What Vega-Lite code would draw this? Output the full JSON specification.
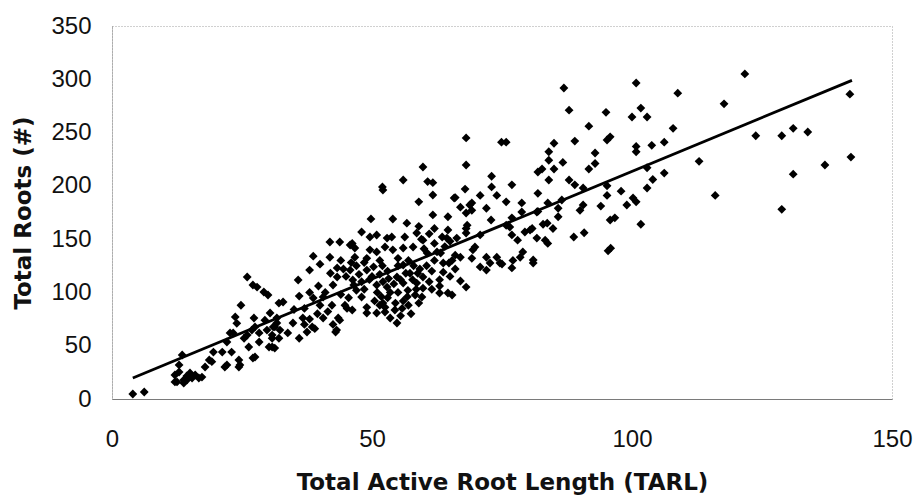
{
"$schema":"https://vega.github.io/schema/vega-lite/v6.json",
"autosize":{"type":"none"},
"width":780,"height":373,
"padding":{"left":112,"top":26,"right":23,"bottom":98},
"background":"white",
"config":{"view":{"stroke":"#a0a0a0","strokeDash":[1,2],"strokeWidth":1},"font":"Liberation Sans"},
"datasets":{
"pts":[
{"x":4,"y":4.7},{"x":6.2,"y":6.6},
{"x":12.1,"y":16},{"x":12.1,"y":22.5},{"x":12.9,"y":25.3},{"x":12.9,"y":32},{"x":13.5,"y":41.3},{"x":13.8,"y":17.8},{"x":13.8,"y":15},{"x":14.4,"y":21.6},{"x":15,"y":24.4},{"x":15.4,"y":19.7},{"x":16,"y":22.5},{"x":16.7,"y":19.7},{"x":17.3,"y":20.6},{"x":12.5,"y":16},{"x":14.4,"y":17.8},
{"x":17.9,"y":30},{"x":18.7,"y":36.6},{"x":19.2,"y":35},{"x":19.5,"y":44},{"x":21.7,"y":30},{"x":21.2,"y":44},{"x":22.1,"y":32},{"x":22.1,"y":53.5},{"x":22.7,"y":62},{"x":23,"y":44},{"x":23.3,"y":62},{"x":23.7,"y":77},{"x":24,"y":71},{"x":24.4,"y":36.6},{"x":24.4,"y":30},{"x":24.6,"y":32},{"x":24.8,"y":88},{"x":25.4,"y":57},{"x":26,"y":60},{"x":26,"y":114.5},{"x":26.3,"y":48.8},{"x":26.9,"y":64.7},{"x":27.1,"y":38.5},{"x":27.3,"y":76},{"x":27.5,"y":39.4},{"x":27.5,"y":67.6},{"x":27.9,"y":105},{"x":27.1,"y":107},{"x":28.3,"y":53.5},{"x":28.3,"y":62},{"x":29.2,"y":100.4},{"x":29.4,"y":74},{"x":29.8,"y":64.7},{"x":30,"y":97.6},{"x":30.2,"y":48.8},{"x":30.4,"y":80.7},{"x":30.8,"y":57},{"x":30.8,"y":48.8},{"x":30.8,"y":60},{"x":31,"y":67.6},{"x":31.3,"y":47.8},{"x":31.3,"y":67.6},{"x":31.7,"y":76},{"x":31.7,"y":71.3},{"x":32.1,"y":57},{"x":32.1,"y":90},{"x":32.3,"y":64.7},{"x":32.9,"y":91},{"x":33.8,"y":62},{"x":34.8,"y":71.3},
{"x":35.8,"y":111.7},{"x":36,"y":96.6},{"x":36,"y":57},{"x":36.7,"y":76},{"x":37.5,"y":62.9},{"x":38.5,"y":67.6},{"x":38.7,"y":94.8},{"x":38,"y":121},{"x":38.7,"y":134},{"x":39.7,"y":106},{"x":40,"y":126.5},{"x":40.6,"y":95.7},{"x":40.6,"y":76},{"x":41.9,"y":133},{"x":41.9,"y":147.3},{"x":42.3,"y":88},{"x":42.5,"y":107},{"x":43.3,"y":123},{"x":43.3,"y":114.5},{"x":43.5,"y":76},{"x":43,"y":62.9},{"x":43.2,"y":64.7},{"x":43.8,"y":147.3},{"x":43.8,"y":74},{"x":44.8,"y":88},{"x":45.2,"y":85},{"x":45.8,"y":121},{"x":45.8,"y":144.5},{"x":46.2,"y":146},{"x":46.2,"y":83.5},{"x":46.3,"y":111.7},{"x":46.7,"y":141.7},{"x":46.7,"y":133},{"x":48,"y":156.7},{"x":48,"y":95.7},{"x":49,"y":132},{"x":49,"y":121},{"x":49,"y":86},{"x":49,"y":80.7},{"x":49.6,"y":152},{"x":49.6,"y":140},{"x":49.8,"y":169},
{"x":37,"y":85},{"x":41,"y":100},{"x":44,"y":98},{"x":47,"y":102},{"x":45,"y":115},{"x":48,"y":110},{"x":42,"y":118},{"x":47,"y":125},{"x":44,"y":130},{"x":38,"y":100},{"x":35,"y":84},{"x":40,"y":88},
{"x":50.9,"y":153.9},{"x":50.9,"y":138},{"x":50.9,"y":107},{"x":50.9,"y":80.7},{"x":51.5,"y":130},{"x":51.5,"y":88},{"x":52,"y":199},{"x":52.1,"y":196},{"x":52.1,"y":110},{"x":52.5,"y":142.6},{"x":52.5,"y":81.6},{"x":52.1,"y":90},{"x":52.9,"y":151},{"x":52.9,"y":105},{"x":53.8,"y":152},{"x":54,"y":168.9},{"x":54.4,"y":83.5},{"x":54.8,"y":114.5},{"x":54.8,"y":71.3},{"x":55,"y":132},{"x":56,"y":205.5},{"x":56,"y":141.7},{"x":56,"y":125.7},{"x":56,"y":108.8},{"x":56.3,"y":152},{"x":56.7,"y":165},{"x":56.9,"y":102},{"x":57.3,"y":118},{"x":57.9,"y":142.6},{"x":58.3,"y":97.6},{"x":58.6,"y":155.8},{"x":58.6,"y":108.8},{"x":59,"y":185},{"x":59,"y":162},{"x":59.6,"y":95.7},{"x":59.8,"y":217.7},{"x":59.8,"y":149},{"x":59.8,"y":114.5},{"x":59.8,"y":104},
{"x":53,"y":120},{"x":55,"y":125},{"x":57,"y":130},{"x":54,"y":140},{"x":58,"y":125},{"x":52,"y":125},{"x":50,"y":115},{"x":53,"y":95},{"x":56,"y":92},{"x":51,"y":100},{"x":55,"y":100},{"x":57,"y":88},
{"x":50.5,"y":92},{"x":51.8,"y":96},{"x":53.5,"y":100},{"x":54.2,"y":108},{"x":55.5,"y":112},{"x":56.5,"y":118},{"x":57.8,"y":112},{"x":58.8,"y":118},{"x":59.2,"y":122},{"x":53.2,"y":113},{"x":51.5,"y":117},{"x":50.3,"y":124},{"x":54.5,"y":90},{"x":56.8,"y":96},{"x":58.5,"y":103},{"x":52.5,"y":86},{"x":55.8,"y":85},{"x":57.5,"y":80},{"x":59,"y":90},{"x":55.5,"y":78},{"x":53.5,"y":76},
{"x":45.5,"y":95},{"x":46.5,"y":107},{"x":48.5,"y":103},{"x":49.5,"y":112},{"x":47.5,"y":117},{"x":44.5,"y":122},{"x":46,"y":128},{"x":48.5,"y":128},
{"x":60.5,"y":125},{"x":62,"y":130},{"x":63,"y":112},{"x":65,"y":115},{"x":61,"y":110},{"x":66,"y":122},
{"x":38,"y":75},{"x":39.5,"y":80},{"x":41.5,"y":82},{"x":42.5,"y":70},{"x":37,"y":70},{"x":39,"y":66},
{"x":60.7,"y":204},{"x":61.7,"y":203},{"x":61.7,"y":191.4},{"x":65.8,"y":188.6},{"x":61.7,"y":172.7},{"x":64.6,"y":171},{"x":60.6,"y":137},{"x":61.5,"y":120},{"x":61.5,"y":103},{"x":63,"y":106},{"x":63,"y":99.5},{"x":63.7,"y":119},{"x":63.7,"y":127.6},{"x":64.4,"y":151},{"x":64.6,"y":99.5},{"x":64.8,"y":127.6},{"x":65.4,"y":130},{"x":65.4,"y":97.6},{"x":66,"y":189},{"x":66.3,"y":151},{"x":67,"y":180},{"x":67,"y":110.7},{"x":67,"y":133},{"x":67.9,"y":197},{"x":68.1,"y":245},{"x":68.1,"y":219.6},{"x":68.1,"y":174.5},{"x":68.1,"y":160},{"x":68.1,"y":155.8},{"x":68.1,"y":105},{"x":68.3,"y":163},{"x":68.8,"y":182},{"x":69.2,"y":184},{"x":69.2,"y":177},{"x":69.2,"y":132},{"x":69.4,"y":140},{"x":69.8,"y":142.6},
{"x":59.5,"y":150},{"x":61,"y":155},{"x":62,"y":146},{"x":63.5,"y":152},{"x":60,"y":141},{"x":62.5,"y":138},{"x":64,"y":143},{"x":65,"y":148},{"x":64.6,"y":158.6},{"x":62,"y":160},{"x":63.2,"y":137},{"x":66,"y":135},
{"x":70.8,"y":191},{"x":70.8,"y":154},{"x":70.8,"y":123.9},{"x":72,"y":179},{"x":72,"y":121},{"x":72,"y":133},{"x":72.9,"y":168},{"x":73,"y":209},{"x":73,"y":199},{"x":74,"y":191},{"x":74,"y":133},{"x":74.6,"y":127.6},{"x":72.7,"y":127.6},{"x":74.9,"y":241},{"x":75.8,"y":241},{"x":75.8,"y":185},{"x":75.8,"y":163},{"x":75,"y":126.7},{"x":76.5,"y":161.4},{"x":76.9,"y":201},{"x":76.9,"y":170},{"x":76.9,"y":154},{"x":76.9,"y":123},{"x":77.1,"y":130},{"x":78,"y":149},{"x":78.5,"y":133},{"x":78.8,"y":184},{"x":78.8,"y":175.5},{"x":79,"y":138},{"x":79.4,"y":156.7},
{"x":80.4,"y":158.6},{"x":80.8,"y":160},{"x":81,"y":130.4},{"x":81,"y":127.6},{"x":81.7,"y":175.5},{"x":81.7,"y":151},{"x":81.9,"y":213},{"x":81.9,"y":193},{"x":81.9,"y":176},{"x":82.7,"y":215.8},{"x":82.9,"y":164},{"x":83.3,"y":149},{"x":83.7,"y":165},{"x":83.8,"y":184},{"x":83.8,"y":146},{"x":84,"y":232},{"x":84,"y":224},{"x":84,"y":205.5},{"x":84.8,"y":160},{"x":85,"y":240},{"x":85,"y":215.8},{"x":85.8,"y":179},{"x":85.8,"y":171},{"x":86.5,"y":186.7},{"x":86.7,"y":222},{"x":86.9,"y":291.8},{"x":87.9,"y":271},{"x":87.9,"y":205.5},{"x":88.8,"y":152},{"x":89,"y":242},{"x":89,"y":201},
{"x":90,"y":177},{"x":90.6,"y":198},{"x":90.6,"y":182},{"x":90.8,"y":156},{"x":91.7,"y":256},{"x":91.7,"y":215.8},{"x":92.9,"y":230.8},{"x":92.9,"y":221},{"x":94,"y":181},{"x":95,"y":269},{"x":95.2,"y":243},{"x":95.8,"y":246},{"x":95.2,"y":200},{"x":95.2,"y":191},{"x":95.4,"y":139},{"x":95.9,"y":141.5},{"x":95.8,"y":168},{"x":96.7,"y":170},{"x":97.9,"y":195},{"x":99,"y":182},
{"x":100,"y":264.6},{"x":100.2,"y":188.6},{"x":100.8,"y":296.5},{"x":100.8,"y":237},{"x":100.8,"y":232},{"x":100.8,"y":185},{"x":101.7,"y":273},{"x":101.7,"y":164},{"x":102.9,"y":264.6},{"x":102.9,"y":217},{"x":102.9,"y":198},{"x":103.8,"y":238},{"x":104,"y":206},{"x":106.2,"y":241},{"x":106.2,"y":212},{"x":107.9,"y":254},{"x":108.8,"y":287},{"x":112.9,"y":223},{"x":116,"y":191},{"x":117.7,"y":277},{"x":121.7,"y":305},{"x":123.8,"y":247},{"x":128.8,"y":247},{"x":128.8,"y":178},{"x":131,"y":254},{"x":131,"y":211},{"x":133.8,"y":250.5},{"x":137.1,"y":219.6},{"x":141.9,"y":286},{"x":142.1,"y":227}
],
"fit":[{"x":4,"y":19.7},{"x":142.3,"y":299}]
},
"layer":[
{"data":{"name":"pts"},"mark":{"type":"point","shape":"diamond","filled":true,"color":"#000000","opacity":1,"size":78},
"encoding":{
"x":{"field":"x","type":"quantitative","scale":{"domain":[0,150],"nice":false,"zero":false},
"axis":{"title":"Total Active Root Length (TARL)","values":[0,50,100,150],"grid":false,"ticks":false,"labelFlush":false,"domain":true,"domainColor":"#7a7a7a","domainWidth":1.2,"labelFontSize":24,"labelColor":"#111111","labelPadding":28,"labelFont":"Liberation Sans","titleFont":"DejaVu Sans","titleFontSize":23,"titleFontWeight":"bold","titleColor":"#111111","titlePadding":20}},
"y":{"field":"y","type":"quantitative","scale":{"domain":[0,350],"nice":false,"zero":false},
"axis":{"title":"Total Roots (#)","values":[0,50,100,150,200,250,300,350],"grid":false,"ticks":false,"labelFlush":false,"domain":true,"domainColor":"#8a8a8a","domainDash":[1,1],"labelFontSize":24,"labelColor":"#111111","labelPadding":21,"labelFont":"Liberation Sans","titleFont":"DejaVu Sans","titleFontSize":23,"titleFontWeight":"bold","titleColor":"#111111","titlePadding":15}}
}},
{"data":{"name":"fit"},"mark":{"type":"line","color":"#000000","strokeWidth":2.8},
"encoding":{"x":{"field":"x","type":"quantitative"},"y":{"field":"y","type":"quantitative"}}}
]
}
